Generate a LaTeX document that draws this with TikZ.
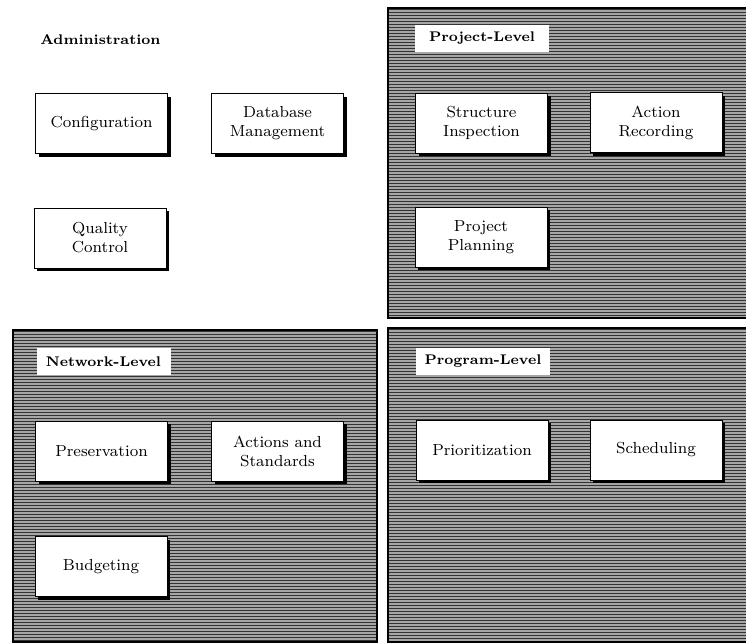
\documentclass[tikz,border=0pt]{standalone}
\usetikzlibrary{shadows}
\begin{document}
\begin{tikzpicture}[x=0.5pt,y=-0.5pt,
    modbox/.style={draw=black,line width=0.5pt,fill=white,minimum width=66pt,minimum height=30pt,
                   inner sep=1pt,align=center,font=\footnotesize,
                   drop shadow={shadow xshift=1.6pt,shadow yshift=-1.6pt,fill=black,opacity=1}},
    tagbox/.style={fill=white,minimum width=67pt,minimum height=13.5pt,inner sep=1pt,font=\scriptsize\bfseries},
    panel/.style={draw=black,line width=1pt},
    stripe/.style={draw=black!80,line width=0.9pt}
  ]
  \useasboundingbox (0,0) rectangle (746,643);
  % striped level panels
  \foreach \xa/\ya/\xb/\yb in {388/8/750/318, 13/330/377/642, 388/328/750/642}{
    \begin{scope}
      \clip (\xa,\ya) rectangle (\xb,\yb);
      \fill[black!35] (\xa,\ya) rectangle (\xb,\yb);
      \foreach \k in {0,...,104}
        \draw[stripe] (\xa,\ya+1.5+3*\k) -- (\xb,\ya+1.5+3*\k);
    \end{scope}
    \draw[panel] (\xa,\ya) rectangle (\xb,\yb);
  }
  % administration
  \node[anchor=west,font=\scriptsize\bfseries,inner sep=0pt] (admin) at (40,40) {Administration};
  \node[modbox] (conf) at (101.5,123.5) {Configuration};
  \node[modbox] (dbm)  at (277.5,123.5) {Database\\Management};
  \node[modbox] (qc)   at (100,238)     {Quality\\Control};
  % project level
  \node[tagbox] (projtag) at (482,38.5) {Project-Level};
  \node[modbox] (sinsp) at (481.5,123) {Structure\\Inspection};
  \node[modbox] (arec)  at (656,122.5) {Action\\Recording};
  \node[modbox] (pplan) at (481,237)   {Project\\Planning};
  % network level
  \node[tagbox] (nettag) at (103.5,361.5) {Network-Level};
  \node[modbox] (pres)   at (101.5,451)   {Preservation};
  \node[modbox] (actstd) at (277.5,451)   {Actions and\\Standards};
  \node[modbox] (budg)   at (101,566.5)   {Budgeting};
  % program level
  \node[tagbox] (progtag) at (483,361.5) {Program-Level};
  \node[modbox] (prio)  at (482,450) {Prioritization};
  \node[modbox] (sched) at (656,450) {Scheduling};
\end{tikzpicture}
\end{document}
